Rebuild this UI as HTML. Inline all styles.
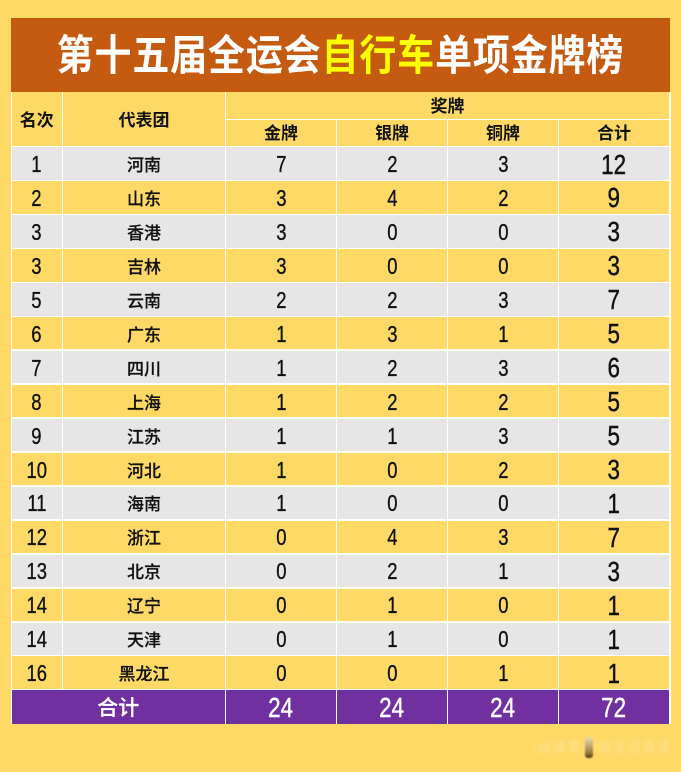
<!DOCTYPE html>
<html>
<head>
<meta charset="utf-8">
<style>
  html,body{margin:0;padding:0;}
  body{width:681px;height:772px;background:#FED966;position:relative;overflow:hidden;
       font-family:"Liberation Sans","Noto Sans CJK SC",sans-serif;}
  .banner{position:absolute;left:11px;top:18px;width:659px;height:74px;background:#C55A11;}
  .title{position:absolute;left:0;top:18px;width:681px;height:74px;text-align:center;line-height:74px;}
  .title span.in{display:inline-block;transform:scaleX(0.88);transform-origin:center;
       font-family:"Liberation Sans","Noto Sans CJK SC",sans-serif;font-weight:700;font-size:42px;
       letter-spacing:1px;padding-left:1px;color:#fff;white-space:nowrap;position:relative;top:1px;}
  .title .y{color:#FFFF00;}
  .row{position:absolute;left:11px;width:659px;height:34px;display:flex;}
  .g{background:#E7E6E6;}
  .yl{background:#FED966;}
  .c{height:34px;display:flex;align-items:center;justify-content:center;color:#111;}
  .c0{width:51.5px;}
  .c1{width:163px;}
  .c2,.c3,.c4{width:111px;}
  .c5{width:111px;}
  .n{display:inline-block;font-family:"Liberation Sans",sans-serif;font-size:23px;transform:scaleX(0.8);
     position:relative;top:1px;-webkit-text-stroke:0.35px currentColor;}
  .nb{font-size:28px;top:1px;-webkit-text-stroke:0.45px currentColor;}
  .cn{font-family:"Liberation Sans","Noto Sans CJK SC",sans-serif;font-size:17px;font-weight:500;position:relative;top:0px;-webkit-text-stroke:0.2px currentColor;}
  .hd{position:absolute;font-family:"Liberation Sans","Noto Sans CJK SC",sans-serif;font-size:17px;font-weight:700;color:#111;
      text-align:center;}
  .tot{background:#7030A0;}
  .tot .c{color:#fff;}
  .hl{position:absolute;background:#fff;height:1.5px;}
  .vl{position:absolute;background:#fff;width:1.5px;}
  .wm{position:absolute;left:537px;top:737px;width:131px;height:20px;font-size:14px;line-height:20px;
      color:rgba(255,255,255,0.3);letter-spacing:1px;white-space:nowrap;overflow:hidden;filter:blur(1.2px);}
  .blob{position:absolute;left:585px;top:737px;width:8px;height:21px;border-radius:3px;
      background:linear-gradient(#eddfb0,#9a7a3a 75%,#4a3515);filter:blur(0.8px);}
</style>
</head>
<body>
<div class="banner"></div>
<div class="title"><span class="in">第十五届全运会<span class="y">自行车</span>单项金牌榜</span></div>

<!-- header texts -->
<div class="hd" style="left:11px;top:108px;width:51.5px;line-height:26px;">名次</div>
<div class="hd" style="left:62.5px;top:108px;width:163px;line-height:26px;">代表团</div>
<div class="hd" style="left:225.5px;top:94px;width:444px;line-height:26px;">奖牌</div>
<div class="hd" style="left:225.5px;top:120px;width:111px;line-height:27px;">金牌</div>
<div class="hd" style="left:336.5px;top:120px;width:111px;line-height:27px;">银牌</div>
<div class="hd" style="left:447.5px;top:120px;width:111px;line-height:27px;">铜牌</div>
<div class="hd" style="left:558.5px;top:120px;width:111px;line-height:27px;">合计</div>

<!-- data rows -->
<div class="row g" style="top:146.5px;"><div class="c c0"><span class="n">1</span></div><div class="c c1"><span class="cn">河南</span></div><div class="c c2"><span class="n">7</span></div><div class="c c3"><span class="n">2</span></div><div class="c c4"><span class="n">3</span></div><div class="c c5"><span class="n nb">12</span></div></div>
<div class="row yl" style="top:180.4px;"><div class="c c0"><span class="n">2</span></div><div class="c c1"><span class="cn">山东</span></div><div class="c c2"><span class="n">3</span></div><div class="c c3"><span class="n">4</span></div><div class="c c4"><span class="n">2</span></div><div class="c c5"><span class="n nb">9</span></div></div>
<div class="row g" style="top:214.4px;"><div class="c c0"><span class="n">3</span></div><div class="c c1"><span class="cn">香港</span></div><div class="c c2"><span class="n">3</span></div><div class="c c3"><span class="n">0</span></div><div class="c c4"><span class="n">0</span></div><div class="c c5"><span class="n nb">3</span></div></div>
<div class="row yl" style="top:248.3px;"><div class="c c0"><span class="n">3</span></div><div class="c c1"><span class="cn">吉林</span></div><div class="c c2"><span class="n">3</span></div><div class="c c3"><span class="n">0</span></div><div class="c c4"><span class="n">0</span></div><div class="c c5"><span class="n nb">3</span></div></div>
<div class="row g" style="top:282.3px;"><div class="c c0"><span class="n">5</span></div><div class="c c1"><span class="cn">云南</span></div><div class="c c2"><span class="n">2</span></div><div class="c c3"><span class="n">2</span></div><div class="c c4"><span class="n">3</span></div><div class="c c5"><span class="n nb">7</span></div></div>
<div class="row yl" style="top:316.2px;"><div class="c c0"><span class="n">6</span></div><div class="c c1"><span class="cn">广东</span></div><div class="c c2"><span class="n">1</span></div><div class="c c3"><span class="n">3</span></div><div class="c c4"><span class="n">1</span></div><div class="c c5"><span class="n nb">5</span></div></div>
<div class="row g" style="top:350.1px;"><div class="c c0"><span class="n">7</span></div><div class="c c1"><span class="cn">四川</span></div><div class="c c2"><span class="n">1</span></div><div class="c c3"><span class="n">2</span></div><div class="c c4"><span class="n">3</span></div><div class="c c5"><span class="n nb">6</span></div></div>
<div class="row yl" style="top:384.1px;"><div class="c c0"><span class="n">8</span></div><div class="c c1"><span class="cn">上海</span></div><div class="c c2"><span class="n">1</span></div><div class="c c3"><span class="n">2</span></div><div class="c c4"><span class="n">2</span></div><div class="c c5"><span class="n nb">5</span></div></div>
<div class="row g" style="top:418.0px;"><div class="c c0"><span class="n">9</span></div><div class="c c1"><span class="cn">江苏</span></div><div class="c c2"><span class="n">1</span></div><div class="c c3"><span class="n">1</span></div><div class="c c4"><span class="n">3</span></div><div class="c c5"><span class="n nb">5</span></div></div>
<div class="row yl" style="top:452.0px;"><div class="c c0"><span class="n">10</span></div><div class="c c1"><span class="cn">河北</span></div><div class="c c2"><span class="n">1</span></div><div class="c c3"><span class="n">0</span></div><div class="c c4"><span class="n">2</span></div><div class="c c5"><span class="n nb">3</span></div></div>
<div class="row g" style="top:485.9px;"><div class="c c0"><span class="n">11</span></div><div class="c c1"><span class="cn">海南</span></div><div class="c c2"><span class="n">1</span></div><div class="c c3"><span class="n">0</span></div><div class="c c4"><span class="n">0</span></div><div class="c c5"><span class="n nb">1</span></div></div>
<div class="row yl" style="top:519.8px;"><div class="c c0"><span class="n">12</span></div><div class="c c1"><span class="cn">浙江</span></div><div class="c c2"><span class="n">0</span></div><div class="c c3"><span class="n">4</span></div><div class="c c4"><span class="n">3</span></div><div class="c c5"><span class="n nb">7</span></div></div>
<div class="row g" style="top:553.8px;"><div class="c c0"><span class="n">13</span></div><div class="c c1"><span class="cn">北京</span></div><div class="c c2"><span class="n">0</span></div><div class="c c3"><span class="n">2</span></div><div class="c c4"><span class="n">1</span></div><div class="c c5"><span class="n nb">3</span></div></div>
<div class="row yl" style="top:587.7px;"><div class="c c0"><span class="n">14</span></div><div class="c c1"><span class="cn">辽宁</span></div><div class="c c2"><span class="n">0</span></div><div class="c c3"><span class="n">1</span></div><div class="c c4"><span class="n">0</span></div><div class="c c5"><span class="n nb">1</span></div></div>
<div class="row g" style="top:621.7px;"><div class="c c0"><span class="n">14</span></div><div class="c c1"><span class="cn">天津</span></div><div class="c c2"><span class="n">0</span></div><div class="c c3"><span class="n">1</span></div><div class="c c4"><span class="n">0</span></div><div class="c c5"><span class="n nb">1</span></div></div>
<div class="row yl" style="top:655.6px;"><div class="c c0"><span class="n">16</span></div><div class="c c1"><span class="cn">黑龙江</span></div><div class="c c2"><span class="n">0</span></div><div class="c c3"><span class="n">0</span></div><div class="c c4"><span class="n">1</span></div><div class="c c5"><span class="n nb">1</span></div></div>
<div class="row tot" style="top:689.6px;"><div class="c" style="width:214.5px;"><span class="cn" style="font-size:21px;color:#fff;">合计</span></div><div class="c c2"><span class="n nb">24</span></div><div class="c c3"><span class="n nb">24</span></div><div class="c c4"><span class="n nb">24</span></div><div class="c c5"><span class="n nb">72</span></div></div>

<!-- grid lines -->
<div class="hl" style="left:225.5px;width:444.5px;top:118.8px;"></div>
<div class="hl" style="left:11px;width:659px;top:145.8px;"></div>
<div class="hl" style="left:11px;width:659px;top:179.7px;"></div>
<div class="hl" style="left:11px;width:659px;top:213.7px;"></div>
<div class="hl" style="left:11px;width:659px;top:247.6px;"></div>
<div class="hl" style="left:11px;width:659px;top:281.6px;"></div>
<div class="hl" style="left:11px;width:659px;top:315.5px;"></div>
<div class="hl" style="left:11px;width:659px;top:349.4px;"></div>
<div class="hl" style="left:11px;width:659px;top:383.4px;"></div>
<div class="hl" style="left:11px;width:659px;top:417.3px;"></div>
<div class="hl" style="left:11px;width:659px;top:451.3px;"></div>
<div class="hl" style="left:11px;width:659px;top:485.2px;"></div>
<div class="hl" style="left:11px;width:659px;top:519.1px;"></div>
<div class="hl" style="left:11px;width:659px;top:553.1px;"></div>
<div class="hl" style="left:11px;width:659px;top:587.0px;"></div>
<div class="hl" style="left:11px;width:659px;top:621.0px;"></div>
<div class="hl" style="left:11px;width:659px;top:654.9px;"></div>
<div class="hl" style="left:11px;width:659px;top:688.9px;"></div>

<div class="vl" style="left:10.5px;top:92px;height:632px;"></div>
<div class="vl" style="left:61.8px;top:92px;height:598px;"></div>
<div class="vl" style="left:224.8px;top:92px;height:632px;"></div>
<div class="vl" style="left:335.8px;top:119px;height:605px;"></div>
<div class="vl" style="left:446.8px;top:119px;height:605px;"></div>
<div class="vl" style="left:557.8px;top:119px;height:605px;"></div>
<div class="vl" style="left:669px;top:92px;height:632px;"></div>

<!-- watermark -->
<div class="wm">@体育新闻全运会速递</div>
<div class="blob"></div>
</body>
</html>
